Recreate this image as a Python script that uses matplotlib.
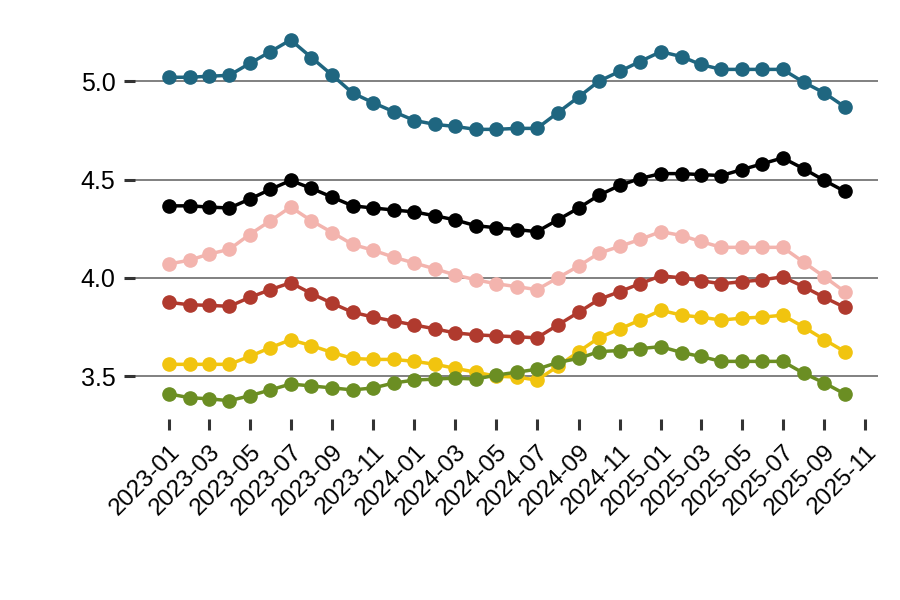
import matplotlib
matplotlib.use("Agg")
import matplotlib.pyplot as plt
import matplotlib.dates as mdates
import pandas as pd

dates = pd.date_range("2023-01-01", "2025-10-01", freq="MS")

teal = [5.02, 5.02, 5.025, 5.03, 5.09, 5.15, 5.21, 5.12, 5.03, 4.94, 4.89, 4.845,
        4.80, 4.78, 4.77, 4.755, 4.755, 4.76, 4.76, 4.84, 4.92, 5.00, 5.05, 5.10,
        5.15, 5.125, 5.085, 5.06, 5.06, 5.06, 5.06, 4.995, 4.94, 4.87]
black = [4.366, 4.366, 4.36, 4.355, 4.40, 4.45, 4.495, 4.455, 4.41, 4.366, 4.355, 4.345,
         4.335, 4.315, 4.295, 4.265, 4.255, 4.245, 4.235, 4.295, 4.355, 4.42, 4.47, 4.505,
         4.53, 4.53, 4.525, 4.52, 4.55, 4.58, 4.61, 4.555, 4.495, 4.44]
pink = [4.07, 4.09, 4.12, 4.145, 4.22, 4.29, 4.36, 4.29, 4.23, 4.17, 4.14, 4.105,
        4.075, 4.045, 4.015, 3.99, 3.97, 3.955, 3.94, 4.0, 4.06, 4.125, 4.16, 4.195,
        4.235, 4.215, 4.185, 4.155, 4.155, 4.155, 4.155, 4.08, 4.005, 3.93]
red = [3.875, 3.863, 3.86, 3.855, 3.90, 3.94, 3.975, 3.92, 3.87, 3.825, 3.80, 3.78,
       3.76, 3.74, 3.72, 3.71, 3.705, 3.70, 3.695, 3.76, 3.825, 3.89, 3.93, 3.97,
       4.01, 4.0, 3.985, 3.97, 3.98, 3.99, 4.005, 3.955, 3.90, 3.85]
yellow = [3.56, 3.56, 3.56, 3.56, 3.60, 3.645, 3.685, 3.655, 3.62, 3.59, 3.585, 3.585,
          3.575, 3.56, 3.54, 3.52, 3.50, 3.495, 3.48, 3.55, 3.625, 3.695, 3.74, 3.785,
          3.835, 3.81, 3.80, 3.785, 3.795, 3.80, 3.81, 3.75, 3.685, 3.625]
green = [3.41, 3.39, 3.385, 3.375, 3.40, 3.43, 3.46, 3.45, 3.44, 3.43, 3.44, 3.465,
         3.48, 3.485, 3.49, 3.485, 3.505, 3.52, 3.535, 3.57, 3.59, 3.625, 3.63, 3.64,
         3.65, 3.62, 3.60, 3.575, 3.575, 3.575, 3.575, 3.515, 3.465, 3.41]

series = [
    (teal, "#1f6680"),
    (black, "#000000"),
    (pink, "#f3b4ae"),
    (red, "#b03a2e"),
    (yellow, "#f1c40f"),
    (green, "#6b8e23"),
]

yticks = [3.5, 4.0, 4.5, 5.0]
ytick_labels = ["3.5", "4.0", "4.5", "5.0"]

plt.rcParams["font.family"] = ["Liberation Sans", "DejaVu Sans"]

fig = plt.figure(figsize=(9, 6), dpi=100)
ax = fig.add_axes([0.15, 0.302, 0.826, 0.661])

for vals, col in series:
    ax.plot(dates, vals, color=col, lw=2.5, marker="o", ms=9.5, zorder=3)

ax.set_yticks(yticks)
ax.set_yticklabels(ytick_labels)
ax.set_ylim(3.283, 5.30)

span = (dates[-1] - dates[0]) * 0.05
ax.set_xlim(dates[0] - span, dates[-1] + span)
ax.xaxis.set_major_locator(mdates.MonthLocator(bymonth=[1, 3, 5, 7, 9, 11]))
ax.xaxis.set_major_formatter(mdates.DateFormatter("%Y-%m"))

ax.grid(axis="y", color="#808080", lw=1.4, zorder=0)
ax.grid(axis="x", visible=False)
for s in ax.spines.values():
    s.set_visible(False)
ax.tick_params(axis="both", length=8, width=2.2, color="#333333",
               labelcolor="black")
ax.tick_params(axis="y", pad=6, labelsize=18)
ax.tick_params(axis="x", pad=8, labelsize=17.5)

for lab in ax.get_xticklabels():
    lab.set_rotation(45)
    lab.set_ha("right")
    lab.set_va("top")
    lab.set_rotation_mode("anchor")

fig.savefig("out.png", dpi=100, facecolor="white")
